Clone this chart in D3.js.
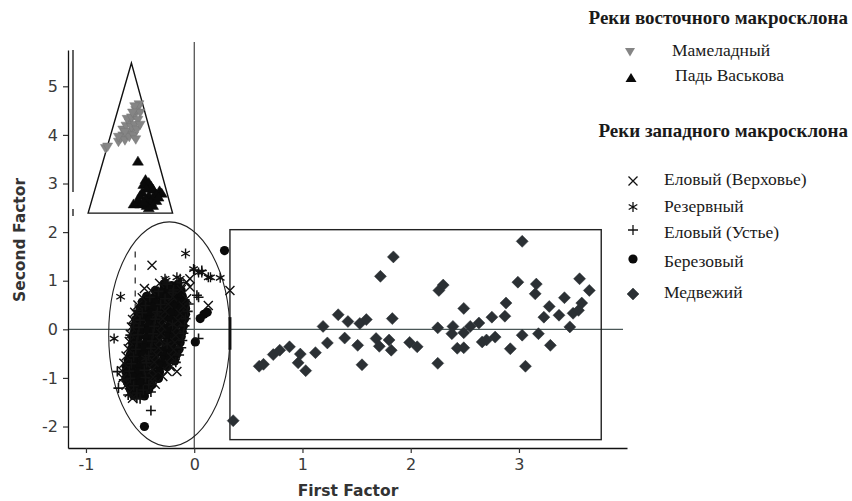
<!DOCTYPE html>
<html><head><meta charset="utf-8">
<script src="https://cdn.jsdelivr.net/npm/d3@7"></script>
<style>body{margin:0;background:#fff}</style></head>
<body>
<svg id="c" width="852" height="501"></svg>
<script>
// ---------- data ----------
const xTicks = [-1, 0, 1, 2, 3];
const yTicks = [-2, -1, 0, 1, 2, 3, 4, 5];
const xTitle = "First Factor";
const yTitle = "Second Factor";
const eastTitle = "Реки восточного макросклона";
const westTitle = "Реки западного макросклона";
const eastNames = ["Мамеладный", "Падь Васькова"];
const westNames = ["Еловый (Верховье)", "Резервный", "Еловый (Устье)", "Березовый", "Медвежий"];

const mameladny = [[-0.82,3.72],[-0.80,3.75],[-0.70,3.85],[-0.68,3.92],[-0.66,3.98],[-0.64,3.88],[-0.62,4.00],[-0.60,3.95],
  [-0.58,4.05],[-0.56,3.98],[-0.66,4.10],[-0.63,4.18],[-0.60,4.25],[-0.58,4.15],[-0.55,4.20],[-0.53,4.10],[-0.62,4.32],
  [-0.58,4.35],[-0.55,4.40],[-0.52,4.30],[-0.54,4.50],[-0.52,4.55],[-0.50,4.45],[-0.51,4.62],[-0.55,4.58],[-0.57,4.45],
  [-0.50,4.20],[-0.64,4.05],[-0.70,3.95],[-0.54,3.90]];
const padVaskova = [[-0.52,3.46],[-0.45,3.08],[-0.42,3.02],[-0.47,2.98],[-0.40,2.95],[-0.44,2.90],[-0.38,2.88],[-0.32,2.85],
  [-0.30,2.80],[-0.35,2.78],[-0.48,2.82],[-0.50,2.75],[-0.42,2.75],[-0.38,2.72],[-0.45,2.68],[-0.52,2.65],[-0.40,2.62],
  [-0.35,2.65],[-0.56,2.58],[-0.50,2.58],[-0.44,2.55],[-0.38,2.55],[-0.42,2.50],[-0.47,2.62],[-0.33,2.72]];
const verkhovye = [[-0.39,1.32],[-0.46,0.84],[-0.07,0.97],[-0.04,0.87],[-0.04,1.04],[0.13,0.49],[0.33,0.80],[-0.16,-0.87],
  [-0.29,-0.97],[-0.39,-1.08],[-0.22,-0.77],
  [-0.32,0.95],[-0.40,0.80],[-0.12,0.82],[-0.48,0.65],[-0.20,0.67],[-0.07,0.63],[-0.52,0.50],[-0.24,0.52],[-0.10,0.48],
  [-0.55,0.35],[-0.27,0.37],[-0.13,0.33],[-0.57,0.20],[-0.29,0.22],[-0.15,0.18],[-0.58,0.05],[-0.30,0.07],[-0.16,0.03],
  [-0.59,-0.10],[-0.31,-0.08],[-0.17,-0.12],[-0.60,-0.25],[-0.32,-0.23],[-0.18,-0.27],[-0.61,-0.40],[-0.33,-0.38],
  [-0.19,-0.42],[-0.63,-0.55],[-0.35,-0.53],[-0.21,-0.57],[-0.65,-0.70],[-0.37,-0.68],[-0.23,-0.72],[-0.67,-0.85],
  [-0.39,-0.83],[-0.25,-0.87],[-0.66,-1.00],[-0.38,-0.98],[-0.63,-1.15],[-0.36,-1.13],[-0.60,-1.30],[-0.57,-1.42]];
const rezervny = [[-0.08,1.56],[-0.68,0.67],[-0.74,-0.19],[-0.26,1.00],[-0.13,1.04],[0.04,1.17],[0.13,1.07],[0.24,1.06],
  [-0.006,1.24],[0.07,1.17],[0.15,1.07],[-0.27,1.04],[-0.16,1.07],[-0.35,0.30],[-0.25,-0.30],[-0.45,-0.60],[-0.20,0.10]];
const ustye = [[-0.40,-1.67],[0.04,0.66],[0.003,1.22],[0.07,1.21],[0.04,-0.19],[-0.59,-0.12],[-0.71,-0.87],[-0.65,-1.04],
  [-0.70,-1.21],[-0.61,-1.35],[-0.53,-1.42],[-0.47,-1.25],[-0.20,0.76],[-0.53,0.39],[-0.56,0.12],[0.025,0.70],
  [-0.25,0.93],[-0.12,0.96],[-0.33,0.78],[-0.19,0.81],[-0.41,0.66],[-0.27,0.63],[-0.45,0.49],[-0.31,0.51],[-0.05,0.52],
  [-0.48,0.34],[-0.34,0.36],[-0.06,0.37],[-0.50,0.19],[-0.36,0.21],[-0.08,0.22],[-0.51,0.04],[-0.37,0.06],[-0.09,0.07],
  [-0.52,-0.11],[-0.38,-0.09],[-0.10,-0.08],[-0.53,-0.26],[-0.39,-0.24],[-0.11,-0.23],[-0.54,-0.41],[-0.40,-0.39],
  [-0.12,-0.38],[-0.56,-0.56],[-0.42,-0.54],[-0.14,-0.53],[-0.58,-0.71],[-0.44,-0.69],[-0.17,-0.68],[-0.60,-0.86],
  [-0.46,-0.84],[-0.59,-1.01],[-0.45,-0.99],[-0.56,-1.16],[-0.42,-1.14],[-0.53,-1.31],[-0.40,-1.29],[-0.50,-1.43]];
const berezovy = [[0.28,1.62],[0.09,0.31],[0.055,0.22],[0.12,0.35],[0.01,-0.26],[-0.46,-2.00],[-0.28,0.80],
  [-0.28,0.92],[-0.21,0.90],[-0.15,0.93],
  [-0.36,0.80],[-0.30,0.78],[-0.23,0.81],[-0.17,0.79],[-0.12,0.80],
  [-0.44,0.68],[-0.37,0.66],[-0.31,0.69],[-0.25,0.67],[-0.18,0.70],[-0.11,0.68],
  [-0.48,0.56],[-0.41,0.57],[-0.35,0.54],[-0.29,0.56],[-0.22,0.55],[-0.15,0.57],[-0.09,0.56],
  [-0.50,0.44],[-0.44,0.43],[-0.38,0.45],[-0.31,0.44],[-0.25,0.42],[-0.18,0.45],[-0.12,0.44],[-0.08,0.43],
  [-0.52,0.32],[-0.46,0.31],[-0.40,0.33],[-0.33,0.32],[-0.27,0.30],[-0.21,0.33],[-0.14,0.32],[-0.08,0.31],
  [-0.54,0.20],[-0.48,0.21],[-0.41,0.19],[-0.35,0.20],[-0.29,0.22],[-0.22,0.20],[-0.16,0.19],[-0.09,0.21],
  [-0.55,0.08],[-0.49,0.07],[-0.42,0.09],[-0.36,0.08],[-0.30,0.06],[-0.23,0.08],[-0.17,0.09],[-0.10,0.07],
  [-0.55,-0.04],[-0.50,-0.05],[-0.43,-0.03],[-0.37,-0.04],[-0.31,-0.05],[-0.24,-0.03],[-0.18,-0.04],[-0.11,-0.05],
  [-0.57,-0.16],[-0.51,-0.15],[-0.44,-0.17],[-0.38,-0.16],[-0.32,-0.14],[-0.25,-0.16],[-0.19,-0.17],[-0.12,-0.15],
  [-0.57,-0.28],[-0.52,-0.27],[-0.45,-0.29],[-0.39,-0.28],[-0.33,-0.26],[-0.26,-0.28],[-0.20,-0.29],[-0.13,-0.27],
  [-0.58,-0.40],[-0.52,-0.41],[-0.46,-0.39],[-0.40,-0.40],[-0.34,-0.42],[-0.27,-0.40],[-0.21,-0.39],[-0.14,-0.41],
  [-0.59,-0.52],[-0.53,-0.51],[-0.47,-0.53],[-0.41,-0.52],[-0.35,-0.50],[-0.28,-0.52],[-0.22,-0.53],[-0.16,-0.51],
  [-0.61,-0.64],[-0.55,-0.65],[-0.48,-0.63],[-0.42,-0.64],[-0.36,-0.66],[-0.29,-0.64],[-0.23,-0.63],[-0.18,-0.65],
  [-0.63,-0.76],[-0.57,-0.75],[-0.50,-0.77],[-0.44,-0.76],[-0.37,-0.74],[-0.31,-0.76],[-0.25,-0.77],
  [-0.63,-0.88],[-0.57,-0.89],[-0.51,-0.87],[-0.45,-0.88],[-0.38,-0.90],[-0.32,-0.88],
  [-0.63,-1.00],[-0.56,-0.99],[-0.50,-1.01],[-0.44,-1.00],[-0.37,-0.98],[-0.33,-1.01],
  [-0.61,-1.12],[-0.55,-1.13],[-0.49,-1.11],[-0.43,-1.12],[-0.39,-1.14],
  [-0.59,-1.24],[-0.53,-1.23],[-0.47,-1.25],[-0.42,-1.24],
  [-0.56,-1.36],[-0.50,-1.35],[-0.46,-1.37]];
const medvezhy = [[0.36,-1.88],[0.60,-0.76],[0.64,-0.72],[0.73,-0.52],[0.79,-0.43],[0.88,-0.36],[0.98,-0.51],[0.96,-0.69],
  [1.03,-0.85],[1.12,-0.48],[1.19,0.06],[1.23,-0.28],[1.33,0.30],[1.42,0.16],[1.39,-0.18],[1.51,-0.33],[1.55,-0.73],
  [1.53,0.12],[1.59,0.20],[1.68,-0.19],[1.71,-0.35],[1.72,1.09],[1.84,1.49],[1.83,0.22],[1.80,-0.22],[1.82,-0.43],
  [1.99,-0.27],[2.06,-0.36],[2.25,0.03],[2.25,-0.70],[2.26,0.80],[2.30,0.91],[2.39,0.06],[2.38,-0.09],[2.43,-0.39],
  [2.49,-0.38],[2.49,0.43],[2.49,-0.07],[2.55,0.06],[2.63,0.13],[2.66,-0.26],[2.70,-0.22],[2.78,-0.16],[2.75,0.25],
  [2.87,0.27],[2.88,0.54],[2.92,-0.40],[2.99,0.97],[3.03,1.81],[3.03,-0.12],[3.06,-0.76],[3.16,0.93],[3.15,0.73],
  [3.18,-0.09],[3.23,0.25],[3.28,0.47],[3.29,-0.33],[3.37,0.29],[3.42,0.65],[3.47,0.05],[3.50,0.33],[3.55,0.39],
  [3.58,0.54],[3.56,1.04],[3.65,0.80]];

// grouping shapes (data units)
const triangleShape = [[-0.58,5.48],[-0.98,2.39],[-0.20,2.39]];
const ellipseShape = {cx:-0.23, cy:-0.1, rx:0.56, ry:2.31};
const rectShape = {x0:0.33, x1:3.76, y0:-2.27, y1:2.05};

// ---------- scales ----------
const svg = d3.select("#c");
const x = d3.scaleLinear().domain([-1.166, 3.998]).range([68, 627]);
const y = d3.scaleLinear().domain([-2.442, 5.747]).range([448, 50]);

// ---------- marker paths ----------
const P = {
  down: "M0,4.5L5,-4L-5,-4Z",
  up: "M0,-5L5.5,4L-5.5,4Z",
  xmark: "M-4.5,-4.5L4.5,4.5M-4.5,4.5L4.5,-4.5",
  star: "M0,-5V5M-4.3,-2.5L4.3,2.5M-4.3,2.5L4.3,-2.5",
  plus: "M-5,0H5M0,-5V5",
  diamond: "M0,-6L6,0L0,6L-6,0Z"
};

// ---------- reference lines ----------
svg.append("line").attr("x1", x(0)).attr("x2", x(0)).attr("y1", 42).attr("y2", y.range()[0])
  .attr("stroke", "#222").attr("stroke-width", 1);
svg.append("line").attr("x1", x.range()[0]).attr("x2", 623).attr("y1", y(0)).attr("y2", y(0))
  .attr("stroke", "#4a5757").attr("stroke-width", 1.2);
svg.append("line").attr("x1", 73).attr("x2", 73).attr("y1", 50).attr("y2", 192).attr("stroke", "#111").attr("stroke-width", 1.3);
svg.append("line").attr("x1", 73).attr("x2", 73).attr("y1", 209).attr("y2", 216).attr("stroke", "#111").attr("stroke-width", 1.3);
svg.append("line").attr("x1", x(-0.545)).attr("x2", x(-0.545)).attr("y1", y(1.6)).attr("y2", y(0.45))
  .attr("stroke", "#333").attr("stroke-width", 1.3).attr("stroke-dasharray", "6,7");

// ---------- axes ----------
const gx = svg.append("g").attr("transform", `translate(0,${y.range()[0]})`)
  .call(d3.axisBottom(x).tickValues(xTicks).tickSize(5).tickSizeOuter(0).tickFormat(d3.format("d")));
const gy = svg.append("g").attr("transform", `translate(${x.range()[0]},0)`)
  .call(d3.axisLeft(y).tickValues(yTicks).tickSize(5).tickSizeOuter(0).tickFormat(d3.format("d")));
[gx, gy].forEach(g => {
  g.select(".domain").attr("stroke", "#111").attr("stroke-width", 1.3);
  g.selectAll(".tick line").attr("stroke", "#333").attr("stroke-width", 1.2);
  g.selectAll("text").attr("font-family", "DejaVu Sans").attr("font-size", 16).attr("fill", "#3a3a3a");
});
gx.selectAll("text").attr("dy", "0.9em");
gy.selectAll("text").attr("x", -10).text(d => d < 0 ? "-" + Math.abs(d) : d);
gx.selectAll("text").text(d => d < 0 ? "-" + Math.abs(d) : d);

svg.append("text").attr("x", 348).attr("y", 496).attr("text-anchor", "middle")
  .attr("font-family", "DejaVu Sans").attr("font-weight", "bold").attr("font-size", 15.5).attr("fill", "#333").text(xTitle);
svg.append("text").attr("transform", "translate(25,240) rotate(-90)").attr("text-anchor", "middle")
  .attr("font-family", "DejaVu Sans").attr("font-weight", "bold").attr("font-size", 15.5).attr("fill", "#333").text(yTitle);

// ---------- grouping shapes ----------
svg.append("path").attr("d", d3.line().x(d => x(d[0])).y(d => y(d[1]))(triangleShape) + "Z")
  .attr("fill", "none").attr("stroke", "#111").attr("stroke-width", 1.4);
svg.append("ellipse").attr("cx", x(ellipseShape.cx)).attr("cy", y(ellipseShape.cy))
  .attr("rx", x(ellipseShape.cx + ellipseShape.rx) - x(ellipseShape.cx))
  .attr("ry", y(ellipseShape.cy) - y(ellipseShape.cy + ellipseShape.ry))
  .attr("fill", "none").attr("stroke", "#222").attr("stroke-width", 1.1);
svg.append("rect").attr("x", x(rectShape.x0)).attr("y", y(rectShape.y1))
  .attr("width", x(rectShape.x1) - x(rectShape.x0)).attr("height", y(rectShape.y0) - y(rectShape.y1))
  .attr("fill", "none").attr("stroke", "#222").attr("stroke-width", 1.4);
svg.append("line").attr("x1", x(rectShape.x0)).attr("x2", x(rectShape.x0)).attr("y1", y(0.25)).attr("y2", y(-0.42))
  .attr("stroke", "#111").attr("stroke-width", 3);

// ---------- points ----------
function draw(data, shape, fill, stroke, sw) {
  svg.append("g").selectAll("path").data(data).join("path")
    .attr("transform", d => `translate(${x(d[0])},${y(d[1])})`)
    .attr("d", P[shape] || null)
    .attr("fill", fill).attr("stroke", stroke).attr("stroke-width", sw);
}
draw(mameladny, "down", "#858585", "#777", 0.5);
draw(padVaskova, "up", "#0a0a0a", "#0a0a0a", 0.5);
svg.append("g").selectAll("circle").data(berezovy).join("circle")
  .attr("cx", d => x(d[0])).attr("cy", d => y(d[1])).attr("r", 4.6).attr("fill", "#0a0a0a");
draw(verkhovye, "xmark", "none", "#111", 1.4);
draw(rezervny, "star", "none", "#111", 1.4);
draw(ustye, "plus", "none", "#111", 1.6);
draw(medvezhy, "diamond", "#2b3034", "#2b3034", 0.5);

// ---------- legend ----------
const serif = "Liberation Serif";
svg.append("text").attr("x", 848).attr("y", 24).attr("text-anchor", "end").attr("font-family", serif)
  .attr("font-weight", "bold").attr("font-size", 19).attr("fill", "#1a1a1a").text(eastTitle);
svg.append("text").attr("x", 848).attr("y", 137).attr("text-anchor", "end").attr("font-family", serif)
  .attr("font-weight", "bold").attr("font-size", 19).attr("fill", "#1a1a1a").text(westTitle);

const eastLeg = [{n: eastNames[0], s: "down", f: "#858585", sx: 630, sy: 52, tx: 672, ty: 56},
                 {n: eastNames[1], s: "up", f: "#0a0a0a", sx: 631, sy: 78, tx: 675, ty: 81}];
eastLeg.forEach(d => {
  svg.append("path").attr("transform", `translate(${d.sx},${d.sy})`).attr("d", P[d.s]).attr("fill", d.f);
  svg.append("text").attr("x", d.tx).attr("y", d.ty).attr("font-family", serif).attr("font-size", 17.5)
    .attr("fill", "#1a1a1a").text(d.n);
});
const westShapes = ["xmark", "star", "plus", "circle", "diamond"];
const westY = [181, 207, 230, 259, 294];
const westTY = [185, 212, 238, 267, 298];
westNames.forEach((n, i) => {
  const s = westShapes[i];
  if (s === "circle") {
    svg.append("circle").attr("cx", 633).attr("cy", westY[i]).attr("r", 4.6).attr("fill", "#0a0a0a");
  } else {
    const filled = s === "diamond";
    svg.append("path").attr("transform", `translate(633,${westY[i]})`).attr("d", P[s])
      .attr("fill", filled ? "#2b3034" : "none").attr("stroke", filled ? "#2b3034" : "#111")
      .attr("stroke-width", filled ? 0.5 : 1.3);
  }
  svg.append("text").attr("x", 664).attr("y", westTY[i]).attr("font-family", serif).attr("font-size", 17.5)
    .attr("fill", "#1a1a1a").text(n);
});
</script>
</body></html>
